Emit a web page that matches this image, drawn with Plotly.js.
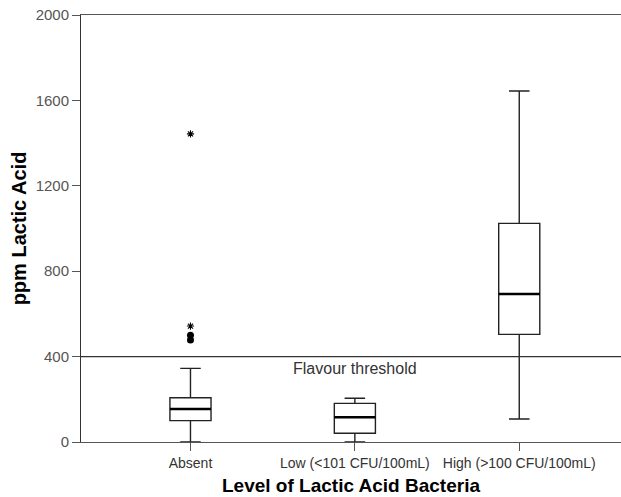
<!DOCTYPE html>
<html><head><meta charset="utf-8">
<script src="https://cdn.plot.ly/plotly-3.0.1.min.js"></script>
<style>body{margin:0;background:#fff}#c{width:621px;height:497px}</style>
</head><body><div id="c"></div>
<script>
const categories = ["Absent", "Low (<101 CFU/100mL)", "High (>100 CFU/100mL)"];
const lowerWhisker = [0, 0, 108];
const q1 = [100, 41, 504];
const median = [155, 116, 693];
const q3 = [207, 181, 1024];
const upperWhisker = [345, 205, 1644];
const outlierCircleX = [0, 0];
const outlierCircleY = [500, 478];
const extremeStarX = [0, 0];
const extremeStarY = [1443, 543];
const threshold = 400;
const thresholdLabel = "Flavour threshold";
const yTicks = [0, 400, 800, 1200, 1600, 2000];

const catIdx = categories.map((_, i) => i);
const halfBox = 0.125;
const traces = [];
catIdx.forEach(i => {
  traces.push({
    type: 'box', x: [i], q1: [q1[i]], median: [median[i]], q3: [q3[i]],
    lowerfence: [lowerWhisker[i]], upperfence: [upperWhisker[i]],
    width: 2 * halfBox, whiskerwidth: 0.5,
    fillcolor: 'rgba(255,255,255,0)', line: {color: '#222', width: 1.4},
    boxpoints: false, hoverinfo: 'skip', showlegend: false
  });
  traces.push({
    type: 'scatter', mode: 'lines', x: [i - halfBox, i + halfBox], y: [median[i], median[i]],
    line: {color: '#000', width: 2.5}, hoverinfo: 'skip', showlegend: false
  });
});
traces.push({type: 'scatter', mode: 'markers', x: outlierCircleX, y: outlierCircleY,
  marker: {symbol: 'circle', size: 7, color: '#000'}, showlegend: false});
traces.push({type: 'scatter', mode: 'markers', x: extremeStarX, y: extremeStarY,
  marker: {symbol: 'asterisk-open', size: 6, color: '#000', line: {color: '#000', width: 1.1}}, showlegend: false});

const layout = {
  width: 621, height: 497,
  margin: {l: 81, r: 0, t: 15, b: 55},
  paper_bgcolor: '#fff', plot_bgcolor: '#fff',
  font: {family: 'Liberation Sans, Arial, sans-serif', color: '#555'},
  showlegend: false,
  xaxis: {
    range: [-0.666, 2.619], tickvals: catIdx, ticktext: categories,
    showgrid: false, zeroline: false, showline: true, mirror: true,
    linecolor: '#555', linewidth: 1, ticks: 'outside', ticklen: 8, tickcolor: '#555',
    tickfont: {size: 14, color: '#333'},
    title: {text: 'Level of Lactic Acid Bacteria', font: {size: 19, color: '#000', family: 'Liberation Sans, Arial, sans-serif', weight: 'bold'}, standoff: 8}
  },
  yaxis: {
    range: [0, 2000], tickvals: yTicks, showgrid: false, zeroline: false,
    showline: true, linecolor: '#333', linewidth: 1, ticks: 'outside', ticklen: 8, tickcolor: '#555',
    tickfont: {size: 15, color: '#555'},
    title: {text: 'ppm Lactic Acid', font: {size: 20, color: '#000', weight: 'bold'}, standoff: 3}
  },
  shapes: [{type: 'line', xref: 'paper', x0: 0, x1: 1, yref: 'y', y0: threshold, y1: threshold,
    line: {color: '#333', width: 1.2}}],
  annotations: [{xref: 'x', x: 1, yref: 'y', y: threshold, yshift: -12, text: thresholdLabel,
    showarrow: false, font: {size: 16, color: '#333'}}]
};
Plotly.newPlot('c', traces, layout, {displayModeBar: false, staticPlot: true});
</script></body></html>
